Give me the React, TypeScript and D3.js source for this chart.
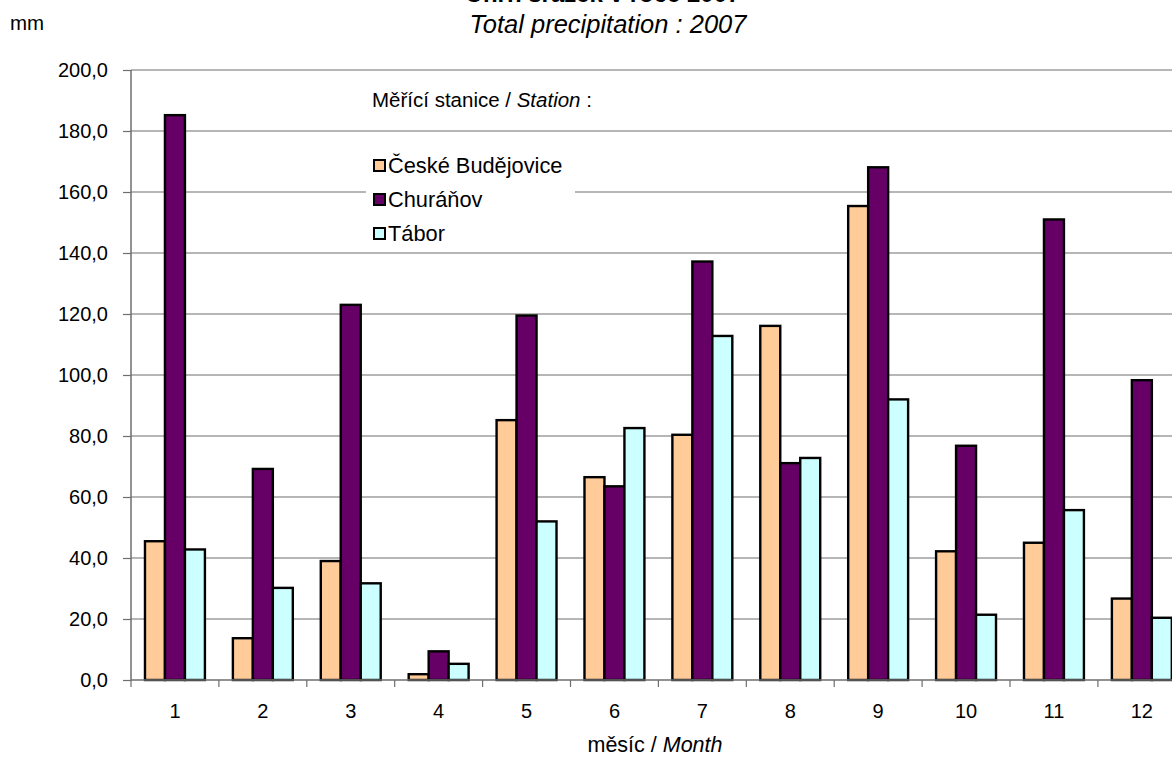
import { useEffect, useRef } from "react";
import * as d3 from "d3";

// ---------------------------------------------------------------------------
// Data (mm per month, 2007)
// ---------------------------------------------------------------------------

const MONTHS = ["1", "2", "3", "4", "5", "6", "7", "8", "9", "10", "11", "12"];
const STATIONS = ["České Budějovice", "Churáňov", "Tábor"];

const BUDEJOVICE = [45.5, 13.7, 39.0, 1.9, 85.2, 66.5, 80.4, 116.1, 155.4, 42.2, 45.0, 26.7];
const CHURANOV = [185.2, 69.2, 123.0, 9.4, 119.5, 63.5, 137.2, 71.1, 168.1, 76.8, 151.0, 98.3];
const TABOR = [42.8, 30.2, 31.7, 5.3, 52.0, 82.6, 112.8, 72.8, 92.0, 21.4, 55.7, 20.4];

const Y_TICKS = [0, 20, 40, 60, 80, 100, 120, 140, 160, 180, 200];

const COLORS = ["#FFCC99", "#660066", "#CCFFFF"];

const W = 1172;
const H = 758;
const FONT = "'Liberation Sans', Arial, sans-serif";

export default function App() {
  const svgRef = useRef<SVGSVGElement>(null);

  useEffect(() => {
    const svg = d3.select(svgRef.current);
    svg.selectAll("*").remove();

    const series = [BUDEJOVICE, CHURANOV, TABOR];
    const left = 131;
    const catW = 87.9;
    const x0 = d3
      .scaleBand<string>()
      .domain(MONTHS)
      .range([left, left + catW * MONTHS.length])
      .paddingInner(0)
      .paddingOuter(0);
    // Excel-style gap width 140%: 0.7 bar width on each side of the group
    const x1 = d3
      .scaleBand<string>()
      .domain(STATIONS)
      .range([0, x0.bandwidth()])
      .paddingOuter(0.7)
      .paddingInner(0);
    const y = d3.scaleLinear().domain([0, 200]).range([680, 70]);

    // gridlines
    svg
      .append("g")
      .selectAll("line")
      .data(Y_TICKS.slice(1))
      .join("line")
      .attr("x1", left)
      .attr("x2", W)
      .attr("y1", (d) => y(d))
      .attr("y2", (d) => y(d))
      .attr("stroke", "#6e6e6e")
      .attr("stroke-width", 1.2);

    // bars
    const groups = svg
      .append("g")
      .selectAll("g")
      .data(MONTHS)
      .join("g")
      .attr("transform", (m) => `translate(${x0(m)},0)`);

    groups
      .selectAll("rect")
      .data((_m, i) => STATIONS.map((s, k) => ({ s, k, v: series[k][i] })))
      .join("rect")
      .attr("x", (d) => x1(d.s)!)
      .attr("width", x1.bandwidth())
      .attr("y", (d) => y(d.v))
      .attr("height", (d) => y(0) - y(d.v))
      .attr("fill", (d) => COLORS[d.k])
      .attr("stroke", "#000")
      .attr("stroke-width", 2.4);

    // axes
    const yAxis = d3
      .axisLeft(y)
      .tickValues(Y_TICKS)
      .tickSize(8)
      .tickPadding(15)
      .tickFormat((d) => d3.format(".1f")(d as number).replace(".", ","));
    svg
      .append("g")
      .attr("transform", `translate(${left},0)`)
      .call(yAxis)
      .call((g) =>
        g.select(".domain").attr("stroke", "#6e6e6e").attr("stroke-width", 1.5).attr("d", `M0,${y(200)}V${y(0)}`)
      )
      .call((g) => g.selectAll(".tick line").attr("stroke", "#6e6e6e").attr("stroke-width", 1.2))
      .call((g) =>
        g.selectAll("text").attr("fill", "#000").attr("font-size", 20).attr("font-family", FONT)
      );

    const xg = svg.append("g");
    xg.append("line")
      .attr("x1", left)
      .attr("x2", W)
      .attr("y1", y(0))
      .attr("y2", y(0))
      .attr("stroke", "#6e6e6e")
      .attr("stroke-width", 1.5);
    xg.selectAll("line.t")
      .data(d3.range(MONTHS.length + 1))
      .join("line")
      .attr("class", "t")
      .attr("x1", (i) => left + i * catW)
      .attr("x2", (i) => left + i * catW)
      .attr("y1", y(0))
      .attr("y2", y(0) + 7)
      .attr("stroke", "#6e6e6e")
      .attr("stroke-width", 1.2);
    xg.selectAll("text")
      .data(MONTHS)
      .join("text")
      .attr("x", (m) => x0(m)! + x0.bandwidth() / 2)
      .attr("y", 718)
      .attr("text-anchor", "middle")
      .attr("font-size", 20)
      .attr("font-family", FONT)
      .text((m) => m);

    // axis titles
    svg
      .append("text")
      .attr("x", 10)
      .attr("y", 30)
      .attr("font-size", 20.5)
      .attr("font-family", FONT)
      .text("mm");

    const xt = svg
      .append("text")
      .attr("x", 655)
      .attr("y", 752)
      .attr("text-anchor", "middle")
      .attr("font-size", 21.5)
      .attr("font-family", FONT);
    xt.append("tspan").text("měsíc / ");
    xt.append("tspan").attr("font-style", "italic").text("Month");

    // titles (first line is cropped at the top edge in the reference)
    svg
      .append("text")
      .attr("x", 603)
      .attr("y", 2)
      .attr("text-anchor", "middle")
      .attr("font-size", 24)
      .attr("font-weight", "bold")
      .attr("font-family", FONT)
      .text("Úhrn srážek v roce 2007");
    svg
      .append("text")
      .attr("x", 608)
      .attr("y", 33)
      .attr("text-anchor", "middle")
      .attr("font-size", 25.5)
      .attr("font-style", "italic")
      .attr("font-family", FONT)
      .text("Total precipitation : 2007");

    // legend title
    const lt = svg
      .append("text")
      .attr("x", 372)
      .attr("y", 107)
      .attr("font-size", 20.5)
      .attr("font-family", FONT);
    lt.append("tspan").text("Měřící stanice / ");
    lt.append("tspan").attr("font-style", "italic").text("Station");
    lt.append("tspan").text(" :");

    // legend box
    const lg = svg.append("g");
    lg.append("rect").attr("x", 366).attr("y", 142).attr("width", 209).attr("height", 103).attr("fill", "#fff");
    const items = lg
      .selectAll("g")
      .data(STATIONS)
      .join("g")
      .attr("transform", (_s, i) => `translate(374,${160 + i * 34})`);
    items
      .append("rect")
      .attr("width", 11)
      .attr("height", 11)
      .attr("fill", (_s, i) => COLORS[i])
      .attr("stroke", "#000")
      .attr("stroke-width", 2);
    items
      .append("text")
      .attr("x", 14)
      .attr("y", 13)
      .attr("font-size", 21.8)
      .attr("font-family", FONT)
      .text((s) => s);
  }, []);

  return (
    <div
      style={{
        position: "fixed",
        left: 0,
        top: 0,
        width: W,
        height: H,
        overflow: "hidden",
        background: "#fff",
      }}
    >
      <svg ref={svgRef} width={W} height={H} style={{ display: "block" }} />
    </div>
  );
}
